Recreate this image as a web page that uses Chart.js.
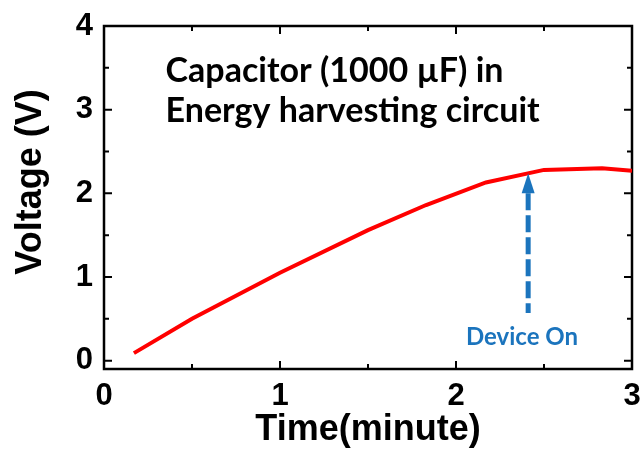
<!DOCTYPE html>
<html lang="en">
<head>
  <meta charset="UTF-8">
  <title>Capacitor voltage</title>
  <script src="https://cdn.jsdelivr.net/npm/chart.js"></script>
  <style>
    html, body { margin: 0; padding: 0; background: white; }
    #wrap { width: 643px; height: 455px; }
  </style>
</head>
<body>
  <div id="wrap"><canvas id="voltage-chart" width="643" height="455"></canvas></div>

  <script>
    // Measured charging curve
    const timeMin = [0.17, 0.5, 1.0, 1.5, 1.83, 2.17, 2.5, 2.83, 3.0];
    const voltage = [0.09, 0.50, 1.05, 1.56, 1.86, 2.13, 2.28, 2.30, 2.27];

    // Axis ticks
    const xTicks = [0, 1, 2, 3];
    const yTicks = [0, 1, 2, 3, 4];
    const xMinorTicks = [0.5, 1.5, 2.5];
    const yMinorTicks = [0.5, 1.5, 2.5, 3.5];

    // Labels and notes
    const xTitle = 'Time(minute)';
    const yTitle = 'Voltage (V)';
    const captionLines = ['Capacitor (1000 \u00b5F) in', 'Energy harvesting circuit'];
    const deviceOnLabel = 'Device On';
    const deviceOnTime = 2.41;
    const arrowFromV = 0.57;
    const arrowToV = 2.24;

    const blue = '#1b74bd';
    const axisFont = '"Liberation Sans", Arial, sans-serif';
    const noteFont = 'Lato, "Open Sans", sans-serif';

    // frame, inward tick marks, axis titles and notes
    const decorations = {
      id: 'decorations',
      beforeDatasetsDraw(chart) {
        const { ctx, chartArea: a, scales: { x, y } } = chart;
        ctx.save();
        ctx.strokeStyle = '#000';
        ctx.lineWidth = 2.5;
        ctx.strokeRect(a.left, a.top, a.right - a.left, a.bottom - a.top);

        const tick = (vals, len) => {
          vals.forEach(v => {
            const px = x.getPixelForValue(v);
            ctx.beginPath();
            ctx.moveTo(px, a.bottom); ctx.lineTo(px, a.bottom - len);
            ctx.moveTo(px, a.top); ctx.lineTo(px, a.top + len);
            ctx.stroke();
          });
        };
        const ytick = (vals, len) => {
          vals.forEach(v => {
            const py = y.getPixelForValue(v);
            ctx.beginPath();
            ctx.moveTo(a.left, py); ctx.lineTo(a.left + len, py);
            ctx.moveTo(a.right, py); ctx.lineTo(a.right - len, py);
            ctx.stroke();
          });
        };
        ctx.lineWidth = 2;
        tick(xTicks, 8);
        tick(xMinorTicks, 5);
        ytick(yTicks, 8);
        ytick(yMinorTicks, 5);
        ctx.restore();
      },
      afterDatasetsDraw(chart) {
        const { ctx, chartArea: a, scales: { x, y } } = chart;
        ctx.save();

        // axis titles
        ctx.fillStyle = '#000';
        ctx.font = 'bold 36px ' + axisFont;
        ctx.textAlign = 'center';
        ctx.textBaseline = 'middle';
        ctx.fillText(xTitle, (a.left + a.right) / 2, 430);
        ctx.save();
        ctx.translate(31, 182);
        ctx.rotate(-Math.PI / 2);
        ctx.fillText(yTitle, 0, 0);
        ctx.restore();

        // caption in the upper left of the plot
        ctx.font = 'bold 34px ' + noteFont;
        ctx.textAlign = 'left';
        ctx.fillText(captionLines[0], x.getPixelForValue(0.35), y.getPixelForValue(3.46));
        ctx.fillText(captionLines[1], x.getPixelForValue(0.35), y.getPixelForValue(2.98));

        // dashed arrow pointing at the switch-on point
        const ax = x.getPixelForValue(deviceOnTime);
        const tipY = y.getPixelForValue(arrowToV);
        const baseY = y.getPixelForValue(arrowFromV);
        const headLen = 20, headW = 13;
        ctx.strokeStyle = blue;
        ctx.fillStyle = blue;
        ctx.lineWidth = 5;
        ctx.setLineDash([17, 5]);
        ctx.beginPath();
        ctx.moveTo(ax, tipY + headLen);
        ctx.lineTo(ax, baseY);
        ctx.stroke();
        ctx.setLineDash([]);
        ctx.beginPath();
        ctx.moveTo(ax, tipY);
        ctx.lineTo(ax - headW / 2, tipY + headLen);
        ctx.lineTo(ax + headW / 2, tipY + headLen);
        ctx.closePath();
        ctx.fill();

        ctx.font = 'bold 24px ' + noteFont;
        ctx.textAlign = 'center';
        ctx.fillText(deviceOnLabel, x.getPixelForValue(2.375), y.getPixelForValue(0.28));
        ctx.restore();
      }
    };

    const tickFont = { family: axisFont, size: 31, weight: 'bold' };

    new Chart(document.getElementById('voltage-chart'), {
      type: 'line',
      data: {
        datasets: [{
          data: timeMin.map((t, i) => ({ x: t, y: voltage[i] })),
          borderColor: '#ff0000',
          borderWidth: 4,
          pointRadius: 0,
          tension: 0,
          fill: false
        }]
      },
      options: {
        responsive: false,
        animation: false,
        events: [],
        layout: { padding: { top: 26, right: 11, left: 0, bottom: 0 } },
        plugins: { legend: { display: false }, tooltip: { enabled: false } },
        scales: {
          x: {
            type: 'linear',
            min: 0,
            max: 3,
            grid: { display: false, drawTicks: false },
            border: { display: false },
            afterBuildTicks: s => { s.ticks = xTicks.map(v => ({ value: v })); },
            afterFit: s => { s.height = 86; s.paddingLeft = 0; s.paddingRight = 0; },
            ticks: { color: '#000', font: tickFont, padding: 9, maxRotation: 0 }
          },
          y: {
            type: 'linear',
            min: -0.1,
            max: 4,
            grid: { display: false, drawTicks: false },
            border: { display: false },
            afterBuildTicks: s => { s.ticks = yTicks.map(v => ({ value: v })); },
            afterFit: s => { s.width = 104; s.paddingTop = 0; s.paddingBottom = 0; },
            ticks: { color: '#000', font: tickFont, padding: 11 }
          }
        }
      },
      plugins: [decorations]
    });
  </script>
</body>
</html>
